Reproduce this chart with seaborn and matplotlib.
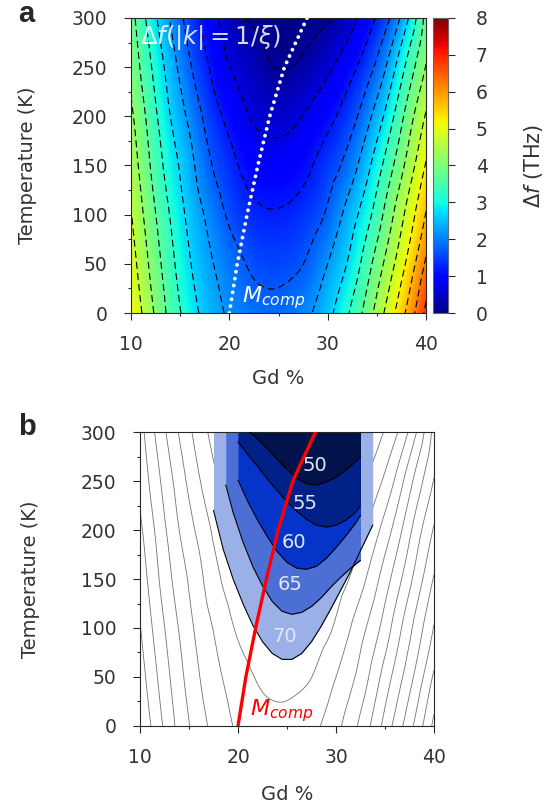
import numpy as np
import matplotlib
matplotlib.use("Agg")
import matplotlib.pyplot as plt
import matplotlib.tri as mtri
import seaborn as sns

# ---- panel a: frequency gap map ----------------------------------------
gd_cols = [10, 12, 14, 16, 18, 20, 22, 24, 26, 28, 30, 32, 34, 36, 38, 40]
t_rows = [0, 50, 100, 150, 200, 250, 300]
df_t0 = [5.16, 4.33, 3.54, 2.94, 2.45, 2.13, 1.95, 1.86, 1.90, 2.13, 2.55, 3.14, 3.92, 4.83, 5.76, 6.83]
df_t50 = [4.94, 4.11, 3.36, 2.73, 2.27, 1.93, 1.66, 1.54, 1.58, 1.77, 2.20, 2.72, 3.48, 4.35, 5.25, 6.29]
df_t100 = [4.73, 3.90, 3.17, 2.55, 2.06, 1.62, 1.35, 1.24, 1.28, 1.45, 1.78, 2.36, 3.02, 3.88, 4.80, 5.73]
df_t150 = [4.51, 3.68, 2.95, 2.35, 1.76, 1.36, 1.04, 0.91, 0.94, 1.13, 1.45, 1.87, 2.55, 3.39, 4.30, 5.25]
df_t200 = [4.30, 3.48, 2.70, 2.08, 1.48, 1.06, 0.70, 0.55, 0.57, 0.78, 1.06, 1.43, 2.03, 2.85, 3.84, 4.75]
df_t250 = [4.08, 3.24, 2.46, 1.75, 1.18, 0.71, 0.47, 0.24, 0.19, 0.34, 0.61, 0.98, 1.48, 2.24, 3.28, 4.23]
df_t300 = [3.90, 2.97, 2.16, 1.48, 0.89, 0.45, 0.17, 0.08, 0.05, 0.08, 0.15, 0.47, 0.97, 1.57, 2.57, 3.87]
df_levels = np.arange(0.2, 8, 0.5)

# compensation line (both panels)
mcomp_gd = [20.0, 20.8, 21.8, 22.9, 24.1, 25.6, 27.9]
mcomp_t = [0, 50, 100, 150, 200, 250, 300]

# ---- panel b: iso-lines, each read as T(Gd) ---------------------------
q70_gd = [17.5, 18.5, 19.5, 20.5, 21.5, 22.5, 23.5, 24.5, 25.5, 26.5, 27.5, 28.5, 29.5, 30.5, 31.5, 32.5, 33.75]
q70_t = [220, 180, 150, 125, 103, 86, 74, 68, 68, 74, 86, 102, 120, 139, 158, 179, 205]
q65_gd = [18.75, 19.5, 20.5, 21.5, 22.5, 23.5, 24.5, 25.5, 26.5, 27.5, 28.5, 29.5, 30.5, 31.5, 32.5]
q65_t = [246, 218, 188, 163, 143, 127, 117, 114, 116, 122, 131, 142, 152, 161, 169]
q60_gd = [20, 21, 22, 23, 24, 25, 26, 27, 28, 29, 30, 31, 32, 32.5]
q60_t = [251, 229, 210, 193, 178, 167, 161, 160, 163, 171, 182, 194, 207, 215]
q55_gd = [20, 21, 22, 23, 24, 25, 26, 27, 28, 29, 30, 31, 32, 32.5]
q55_t = [290, 277, 265, 252, 240, 229, 219, 211, 205, 203, 205, 210, 218, 225]
q50_gd = [21.2, 22, 23, 24, 25, 26, 27, 28, 29, 30, 31, 32, 32.5]
q50_t = [300, 293, 283, 272, 262, 253, 247, 246, 249, 254, 261, 270, 275]
q_levels = [70, 65, 60, 55, 50]
q_colors = ['#9cb0e8', '#4c6fd6', '#0634c8', '#022188', '#02124a']
q_label_gd = [24.8, 25.3, 25.7, 26.8, 27.85]
q_label_t = [91, 144, 187, 227, 266]

TXT = '#333333'
FS = 13.5


def style_axes(ax, ylab_x, xlab_y):
    ax.set_xlim(10, 40)
    ax.set_ylim(0, 300)
    ax.set_xticks([10, 20, 30, 40])
    ax.set_xticks([15, 25, 35], minor=True)
    ax.set_yticks(range(0, 301, 50))
    ax.set_yticks(range(25, 300, 50), minor=True)
    ax.tick_params(which='major', length=5, width=0.8, labelsize=FS,
                   labelcolor=TXT)
    ax.tick_params(which='minor', length=2.5, width=0.8)
    ax.tick_params(axis='y', pad=12)
    ax.tick_params(axis='x', pad=11)
    for s in ax.spines.values():
        s.set_linewidth(0.8)
    ax.set_xlabel('Gd %', fontsize=14, color=TXT)
    ax.set_ylabel('Temperature (K)', fontsize=14, color=TXT)
    ax.xaxis.set_label_coords(0.5, xlab_y)
    ax.yaxis.set_label_coords(ylab_x, 0.5)


def main():
    sns.set_style("ticks")
    plt.rcParams['font.family'] = ['DejaVu Sans']
    plt.rcParams['mathtext.fontset'] = 'dejavusans'
    plt.rcParams['lines.scale_dashes'] = False

    fig = plt.figure(figsize=(5.45, 8.09), dpi=100)
    ax1 = fig.add_axes([0.2404, 0.6131, 0.5413, 0.3647])
    cax = fig.add_axes([0.7945, 0.6131, 0.0275, 0.3647])
    ax2 = fig.add_axes([0.2569, 0.1026, 0.5394, 0.3634])

    # smooth field from the read table (library cubic interpolation)
    zz = np.array([df_t0, df_t50, df_t100, df_t150, df_t200, df_t250, df_t300])
    gg, tt = np.meshgrid(gd_cols, t_rows)
    tri = mtri.Triangulation(gg.ravel(), tt.ravel() / 25.0)
    interp = mtri.CubicTriInterpolator(tri, zz.ravel(), kind='min_E')
    tri_f, z_f = mtri.UniformTriRefiner(tri).refine_field(
        zz.ravel(), triinterpolator=interp, subdiv=4)
    tri_p = mtri.Triangulation(tri_f.x, tri_f.y * 25.0, tri_f.triangles)

    # panel a
    pc = ax1.tripcolor(tri_p, z_f, shading='gouraud', cmap='jet',
                       vmin=0, vmax=8, rasterized=True)
    ax1.tricontour(tri_p, z_f, levels=df_levels, colors='k',
                   linewidths=0.8, linestyles=[(0, (5, 3))])
    sns.lineplot(x=mcomp_gd, y=mcomp_t, ax=ax1, color='white', lw=2.8,
                 sort=False, estimator=None, linestyle=(0, (0.01, 5.0)),
                 dash_capstyle='round', zorder=4)
    ax1.text(10.9, 280, r'$\Delta f(|k| = 1/\xi)$', color='white',
             alpha=0.85, fontsize=17.5, va='center', zorder=5)
    ax1.text(21.3, 2, r'$M_{comp}$', color='white', fontsize=16,
             va='bottom', zorder=5)
    style_axes(ax1, -0.32, -0.19)

    cb = fig.colorbar(pc, cax=cax, ticks=range(9))
    cb.outline.set_linewidth(0.8)
    cb.outline.set_edgecolor('0.4')
    cax.tick_params(length=5, width=0.8, labelsize=FS, labelcolor=TXT, pad=15)
    fig.text(0.978, 0.7954, r'$\Delta f$ (THz)', rotation=90, ha='center',
             va='center', fontsize=15, color=TXT)

    # panel b
    ax2.tricontour(tri_p, z_f, levels=df_levels, colors='0.45',
                   linewidths=0.6, zorder=1)
    q_gd = [q70_gd, q65_gd, q60_gd, q55_gd, q50_gd]
    q_t = [q70_t, q65_t, q60_t, q55_t, q50_t]
    for gd, t, col in zip(q_gd, q_t, q_colors):
        ax2.fill_between(gd, t, 300, color=col, lw=0, zorder=2)
    for gd, t in zip(q_gd, q_t):
        sns.lineplot(x=gd, y=t, ax=ax2, color='k', lw=0.8, sort=False,
                     estimator=None, zorder=3)
    for lev, gx, ty in zip(q_levels, q_label_gd, q_label_t):
        ax2.text(gx, ty, str(lev), ha='center', va='center',
                 color='#e2e7f5', fontsize=FS + 0.5, zorder=5)
    sns.lineplot(x=mcomp_gd, y=mcomp_t, ax=ax2, color='red', lw=2.4,
                 sort=False, estimator=None, zorder=4)
    ax2.text(21.2, 2, r'$M_{comp}$', color='red', fontsize=16,
             va='bottom', zorder=5)
    style_axes(ax2, -0.34, -0.2)

    fig.text(0.033, 0.973, 'a', fontsize=21, weight='bold',
             family='Liberation Sans', va='baseline')
    fig.text(0.033, 0.4623, 'b', fontsize=21, weight='bold',
             family='Liberation Sans', va='baseline')

    fig.savefig('out.png', dpi=100)


if __name__ == '__main__':
    main()
